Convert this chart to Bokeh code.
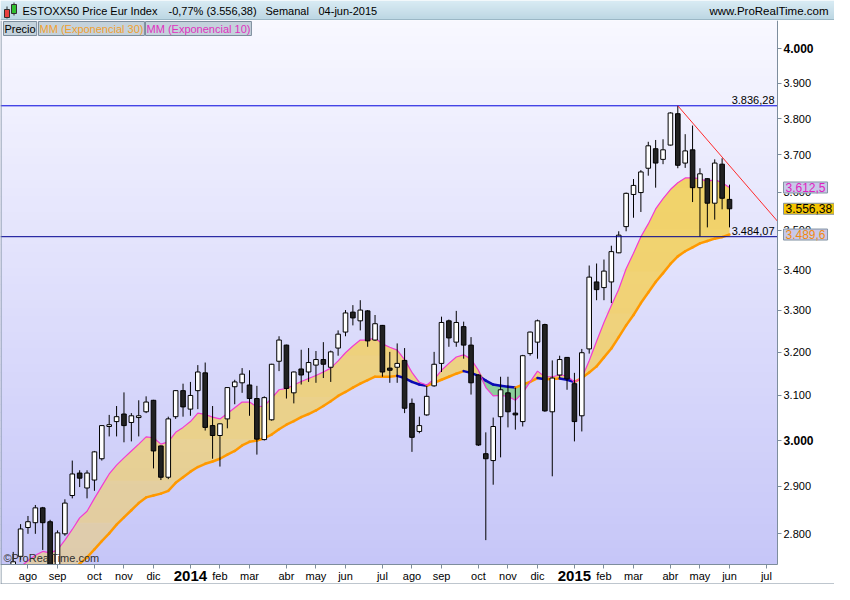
import math
from bokeh.plotting import figure
from bokeh.models import Range1d, FixedTicker, Label
from bokeh.layouts import column
from bokeh.embed import file_html
from bokeh.resources import INLINE
from bokeh.core.properties import value

# ---------------- data (weekly bars, index 0 = week of 5-ago-2013) ----------------
FIRST_BAR = -2
opens = [2714, 2754, 2813, 2823, 2854, 2825, 2733, 2800, 2880, 2928,
         2896, 2913, 2959, 3030, 3041, 3058, 3039, 3050, 3063, 3089,
         2987, 2919, 3052, 3111, 3069, 3111, 3152, 3032, 3010, 3047,
         3120, 3129, 3124, 3093, 3001, 3045, 3179, 3217, 3106, 3161,
         3154, 3170, 3183, 3165, 3210, 3248, 3296, 3275, 3299, 3229,
         3264, 3163, 3165, 3181, 3082, 3019, 3056, 3122, 3174, 3275,
         3224, 3261, 3217, 3147, 2970, 2955, 3052, 3106, 3060, 3041,
         3197, 3224, 3266, 3063, 3147, 3188, 3127, 3054, 3208, 3370,
         3356, 3370, 3443, 3510, 3594, 3599, 3664, 3717, 3688, 3727,
         3814, 3678, 3714, 3612, 3636, 3571, 3675, 3581]
highs = [2763, 2820, 2837, 2860, 2856, 2829, 2807, 2872, 2955, 2934,
         2934, 2976, 3033, 3056, 3076, 3107, 3060, 3089, 3098, 3090,
         2988, 3052, 3112, 3127, 3131, 3170, 3176, 3076, 3037, 3119,
         3136, 3163, 3158, 3122, 3098, 3173, 3238, 3218, 3155, 3206,
         3210, 3203, 3224, 3204, 3252, 3301, 3313, 3325, 3301, 3289,
         3265, 3201, 3221, 3210, 3093, 3052, 3122, 3201, 3285, 3278,
         3299, 3273, 3236, 3148, 3017, 3050, 3143, 3143, 3118, 3194,
         3249, 3278, 3268, 3181, 3192, 3189, 3152, 3208, 3411, 3416,
         3426, 3461, 3498, 3599, 3635, 3659, 3736, 3741, 3743, 3818,
         3836.28, 3757, 3781, 3664, 3637, 3688, 3691, 3620]
lows = [2704, 2747, 2800, 2800, 2767, 2722, 2725, 2796, 2874, 2898,
        2874, 2890, 2955, 3008, 3008, 2995, 2997, 3008, 3060, 2938,
        2913, 2915, 3047, 3052, 3054, 3069, 3021, 2959, 2942, 3026,
        3080, 3106, 3054, 2968, 2999, 3043, 3156, 3093, 3082, 3125,
        3131, 3129, 3140, 3131, 3192, 3238, 3264, 3252, 3213, 3227,
        3143, 3129, 3129, 3060, 2974, 3015, 3054, 3120, 3154, 3213,
        3213, 3185, 3102, 2987, 2787, 2903, 2962, 3028, 3023, 3030,
        3192, 3185, 3063, 2921, 3140, 3113, 2997, 3019, 3197, 3325,
        3325, 3318, 3442, 3498, 3533, 3548, 3644, 3612, 3675, 3726,
        3664, 3665, 3574, 3484.07, 3508, 3528, 3555, 3508]
closes = [2743, 2810, 2825, 2854, 2823, 2730, 2802, 2864, 2926, 2917,
          2928, 2974, 3032, 3034, 3052, 3032, 3054, 3054, 3085, 2976,
          2919, 3047, 3111, 3074, 3100, 3154, 3028, 3010, 3036, 3118,
          3131, 3149, 3093, 3002, 3095, 3172, 3229, 3116, 3154, 3147,
          3176, 3183, 3172, 3201, 3243, 3294, 3282, 3301, 3227, 3268,
          3154, 3158, 3174, 3071, 3006, 3032, 3098, 3172, 3271, 3234,
          3271, 3217, 3129, 2989, 2959, 3030, 3113, 3063, 3056, 3192,
          3248, 3275, 3065, 3140, 3183, 3138, 3041, 3199, 3382, 3351,
          3397, 3446, 3488, 3597, 3618, 3654, 3725, 3678, 3714, 3816,
          3672, 3711, 3612, 3649, 3571, 3678, 3584, 3556.38]
ema10 = [2714, 2733, 2745, 2756, 2764, 2761, 2767, 2787, 2809, 2833,
         2847, 2874, 2900, 2926, 2945, 2961, 2976, 2991, 3007, 3005,
         2991, 2996, 3017, 3028, 3041, 3060, 3057, 3051, 3047, 3059,
         3072, 3085, 3085, 3074, 3076, 3094, 3113, 3116, 3124, 3132,
         3139, 3146, 3154, 3163, 3180, 3199, 3215, 3229, 3229, 3234,
         3220, 3212, 3205, 3183, 3153, 3130, 3124, 3137, 3158, 3174,
         3189, 3194, 3184, 3158, 3118, 3099, 3100, 3098, 3089, 3106,
         3131, 3156, 3143, 3143, 3147, 3145, 3131, 3140, 3180, 3226,
         3271, 3312, 3352, 3403, 3442, 3484, 3517, 3556, 3583, 3607,
         3625, 3638, 3638, 3636, 3628, 3634, 3625, 3612.5]
ema30 = [2622, 2633, 2645, 2657, 2670, 2683, 2697, 2710, 2724, 2739,
         2752, 2768, 2785, 2801, 2819, 2834, 2849, 2864, 2876, 2880,
         2884, 2890, 2907, 2919, 2931, 2941, 2948, 2953, 2959, 2968,
         2976, 2988, 2996, 2999, 3004, 3012, 3024, 3034, 3042, 3051,
         3058, 3066, 3076, 3087, 3099, 3108, 3118, 3127, 3135, 3143,
         3143, 3143, 3145, 3140, 3131, 3125, 3122, 3129, 3136, 3143,
         3150, 3156, 3152, 3145, 3134, 3125, 3122, 3120, 3118, 3125,
         3131, 3140, 3137, 3138, 3139, 3136, 3131, 3140, 3153, 3167,
         3188, 3209, 3236, 3264, 3289, 3318, 3344, 3370, 3392, 3415,
         3434, 3447, 3457, 3467, 3473, 3479, 3483, 3489.6]

month_tick_idx = [0, 4, 9, 13, 17, 22, 26, 30, 35, 39, 43, 48,
                  52, 56, 61, 65, 69, 74, 78, 82, 87, 91, 95, 100]
month_labels = ["ago", "sep", "oct", "nov", "dic", "2014", "feb", "mar", "abr", "may", "jun", "jul",
                "ago", "sep", "oct", "nov", "dic", "2015", "feb", "mar", "abr", "may", "jun", "jul"]
year_labels = ["2014", "2015"]
price_ticks = [2800, 2900, 3000, 3100, 3200, 3300, 3400, 3500, 3600, 3700, 3800, 3900, 4000]
bold_price_ticks = [3000, 4000]
levels = [3836.28, 3484.07]
trend_x = [88, 101.5]
trend_y = [3836.28, 3524]
title_parts = ["ESTOXX50 Price Eur Index", "-0,77% (3.556,38)", "Semanal", "04-jun-2015"]
site = "www.ProRealTime.com"
legend_texts = ["Precio", "MM (Exponencial 30)", "MM (Exponencial 10)"]

# ---------------- layout helpers ----------------
n = len(closes)
idx = [FIRST_BAR + k for k in range(n)]
FONT = "Liberation Sans"
W = 834
HDR_H = 20
MAIN_H = 564
PLOT_W = 777          # price area width (px)
BOTTOM = 20           # date-scale height (px)
PLOT_H = MAIN_H - BOTTOM
XMIN, XMAX = -3.72, 101.5
YMIN, YMAX = 2737.5, 4084.7
PXB = PLOT_W / (XMAX - XMIN)
PPD = PLOT_H / math.log10(YMAX / YMIN)
XFULL = XMIN + W / PXB
YFULL = YMIN / 10 ** (BOTTOM / PPD)


def X(px):
    return XMIN + px / PXB


def Y(py):
    return YMAX / 10 ** (py / PPD)


def es(v, d=0):
    s = f"{v:,.{d}f}"
    return s.replace(",", "#").replace(".", ",").replace("#", ".")


def lerp_col(c0, c1, t):
    return "#%02x%02x%02x" % tuple(int(round(a + (b - a) * t)) for a, b in zip(c0, c1))


# ---------------- header strip ----------------
hdr = figure(width=W, height=HDR_H, x_range=Range1d(0, W), y_range=Range1d(0, HDR_H),
             toolbar_location=None, output_backend="svg", x_axis_location=None,
             y_axis_location=None, min_border=0)
hdr.grid.visible = False
hdr.outline_line_color = None
hb = list(range(HDR_H))
hdr.quad(left=0, right=W, bottom=hb, top=[b + 1 for b in hb],
         fill_color=[lerp_col((164, 200, 216), (204, 228, 240), b / (HDR_H - 1)) for b in hb],
         line_color=None)
hdr.quad(left=0, right=W, bottom=0, top=1, fill_color="#7d98a8", line_color=None)
hdr.segment(x0=[6.5, 13.5], y0=[2, 5], x1=[6.5, 13.5], y1=[14, 18], color="#303030")
hdr.quad(left=[4, 11], right=[9, 16], bottom=[3, 7], top=[11, 16],
         fill_color=["#e84040", "#30c030"], line_color="#303030")
hdr.text(x=[22, 168, 265, 318], y=[10] * 4, text=title_parts, text_baseline="middle",
         text_font=value(FONT), text_font_size="11px", text_color="black")
hdr.text(x=[W - 6], y=[10], text=[site], text_baseline="middle", text_align="right",
         text_font=value(FONT), text_font_size="11.5px", text_color="black")

# ---------------- main chart (frame = whole canvas, scales placed inside) ----------------
p = figure(width=W, height=MAIN_H, x_range=Range1d(XMIN, XFULL), y_range=Range1d(YFULL, YMAX),
           y_axis_type="log", y_axis_location="right", toolbar_location=None,
           output_backend="svg", min_border=0)
p.grid.visible = False
p.background_fill_color = "white"
p.border_fill_color = "white"
p.outline_line_color = None

# gradient background of the price area
NB = 68
band_top = [Y(k * PLOT_H / NB) for k in range(NB)]
band_bot = [Y((k + 1) * PLOT_H / NB) for k in range(NB)]
band_col = [lerp_col((248, 248, 255), (198, 198, 248), (k + 0.5) / NB) for k in range(NB)]
p.quad(left=XMIN, right=XMAX, top=band_top, bottom=band_bot,
       fill_color=band_col, line_color=band_col, line_width=1)

# fill between the moving averages
upper = [max(a, b) for a, b in zip(ema10, ema30)]
lower = [min(a, b) for a, b in zip(ema10, ema30)]
GOLD = "#fad050"
p.varea(x=idx, y1=ema30, y2=upper, fill_color=GOLD, fill_alpha=0.45)
K = 12
for j in range(1, K + 1):
    L = Y(PLOT_H * (1 - j / (K + 1)))
    p.varea(x=idx, y1=[max(b, L) for b in ema30], y2=[max(u, L) for u in upper],
            fill_color=GOLD, fill_alpha=0.13)
p.varea(x=idx, y1=lower, y2=ema30, fill_color="#5cc85c", fill_alpha=0.6)

# moving averages
e30_col = ["#ff9900" if ema30[k + 1] >= ema30[k] else "#0a0ab4" for k in range(n - 1)]
p.segment(x0=idx[:-1], y0=ema30[:-1], x1=idx[1:], y1=ema30[1:], color=e30_col,
          line_width=2.5, line_cap="round")
p.line(idx, ema10, color="#f23cd2", line_width=1.2)

# candles
inc = [c >= o for o, c in zip(opens, closes)]
p.segment(x0=idx, y0=lows, x1=idx, y1=highs, color="black", line_width=1)
p.vbar(x=idx, width=0.62, top=[max(o, c) for o, c in zip(opens, closes)],
       bottom=[min(o, c) for o, c in zip(opens, closes)],
       fill_color=["white" if u else "#222222" for u in inc], line_color="black", line_width=1)

# support / resistance and trend line
p.segment(x0=[XMIN] * len(levels), x1=[XMAX] * len(levels), y0=levels, y1=levels,
          color=["#0000dd", "#000090"], line_width=1)
p.line(trend_x, trend_y, color="#ff2a2a", line_width=1)

# white masks for the scale areas (clip of the price area)
p.quad(left=[XMAX, XMIN - 1], right=[XFULL + 1, XFULL + 1], bottom=[YFULL / 1.02, YFULL / 1.02],
       top=[YMAX * 1.02, YMIN], fill_color="white", line_color=None)
# chart borders
p.segment(x0=[X(0.5), XMIN], x1=[X(0.5), XFULL], y0=[YFULL, Y(MAIN_H - 0.5)],
          y1=[YMAX, Y(MAIN_H - 0.5)], color="#7d8d9d", line_width=1)

for lv in levels:
    p.add_layout(Label(x=X(PLOT_W - 3), y=lv * 10 ** (1.5 / PPD), text=es(lv, 2),
                       text_align="right", text_baseline="bottom", text_font=FONT,
                       text_font_size="11px", text_color="black"))

# price scale
yax = p.yaxis[0]
yax.fixed_location = XMAX
yax.bounds = (YMIN, YMAX)
yax.ticker = FixedTicker(ticks=price_ticks)
yax.major_label_overrides = {t: ("" if t in bold_price_ticks else es(t)) for t in price_ticks}
yax.major_label_text_font = FONT
yax.major_label_text_font_size = "11px"
yax.major_label_text_color = "black"
yax.major_label_standoff = 2
yax.major_tick_out = 4
yax.major_tick_in = 0
yax.minor_tick_line_color = None
yax.axis_line_color = "#7d8d9d"
yax.major_tick_line_color = "#7d8d9d"
for t in bold_price_ticks:
    p.add_layout(Label(x=X(PLOT_W + 6), y=t, text=es(t), text_baseline="middle",
                       text_align="left", text_font=FONT, text_font_size="12px",
                       text_font_style="bold", text_color="black"))

# date scale
xax = p.xaxis[0]
xax.fixed_location = YMIN
xax.bounds = (XMIN, XMAX)
xax.ticker = FixedTicker(ticks=month_tick_idx)
xax.major_label_overrides = {t: ("" if lab in year_labels else lab)
                             for t, lab in zip(month_tick_idx, month_labels)}
xax.major_label_text_font = FONT
xax.major_label_text_font_size = "11px"
xax.major_label_text_color = "black"
xax.major_label_standoff = 1
xax.major_tick_out = 4
xax.major_tick_in = 0
xax.minor_tick_line_color = None
xax.axis_line_color = "#7d8d9d"
xax.major_tick_line_color = "#7d8d9d"
for t, lab in zip(month_tick_idx, month_labels):
    if lab in year_labels:
        p.add_layout(Label(x=t, y=Y(PLOT_H + 11), text=lab, text_align="center",
                           text_baseline="middle", text_font=FONT, text_font_size="15px",
                           text_font_style="bold", text_color="black"))

# last values on the price scale
last_boxes = [(ema10[-1], es(ema10[-1], 1), "#e020c0", "#c8c8e8"),
              (closes[-1], es(closes[-1], 2), "black", "#f5c400"),
              (ema30[-1], es(ema30[-1], 1), "#f08a10", "#c8c8e8")]
for v, txt, tc, bg in last_boxes:
    p.add_layout(Label(x=X(PLOT_W + 6), y=v, text=txt, text_baseline="middle",
                       text_align="left", text_font=FONT, text_font_size="12px",
                       text_color=tc, background_fill_color=bg,
                       border_line_color="#8494a4", padding=(2, 1)))

# legend tabs
for txt, px, tc in zip(legend_texts, [3, 38, 145], ["black", "#f0a030", "#e030c0"]):
    p.add_layout(Label(x=X(px), y=Y(8), text=txt, text_baseline="middle", text_align="left",
                       text_font=FONT, text_font_size="11px", text_color=tc,
                       background_fill_color="#c4d2dc", border_line_color="#7d8d9d",
                       padding=(1, 1)))

# watermark
p.add_layout(Label(x=X(3), y=Y(PLOT_H - 1), text="©ProRealTime.com", text_baseline="bottom",
                   text_font=FONT, text_font_size="11px", text_color="#303030"))

layout = column(hdr, p, spacing=0)
open("out.html", "w").write(file_html(layout, INLINE))
